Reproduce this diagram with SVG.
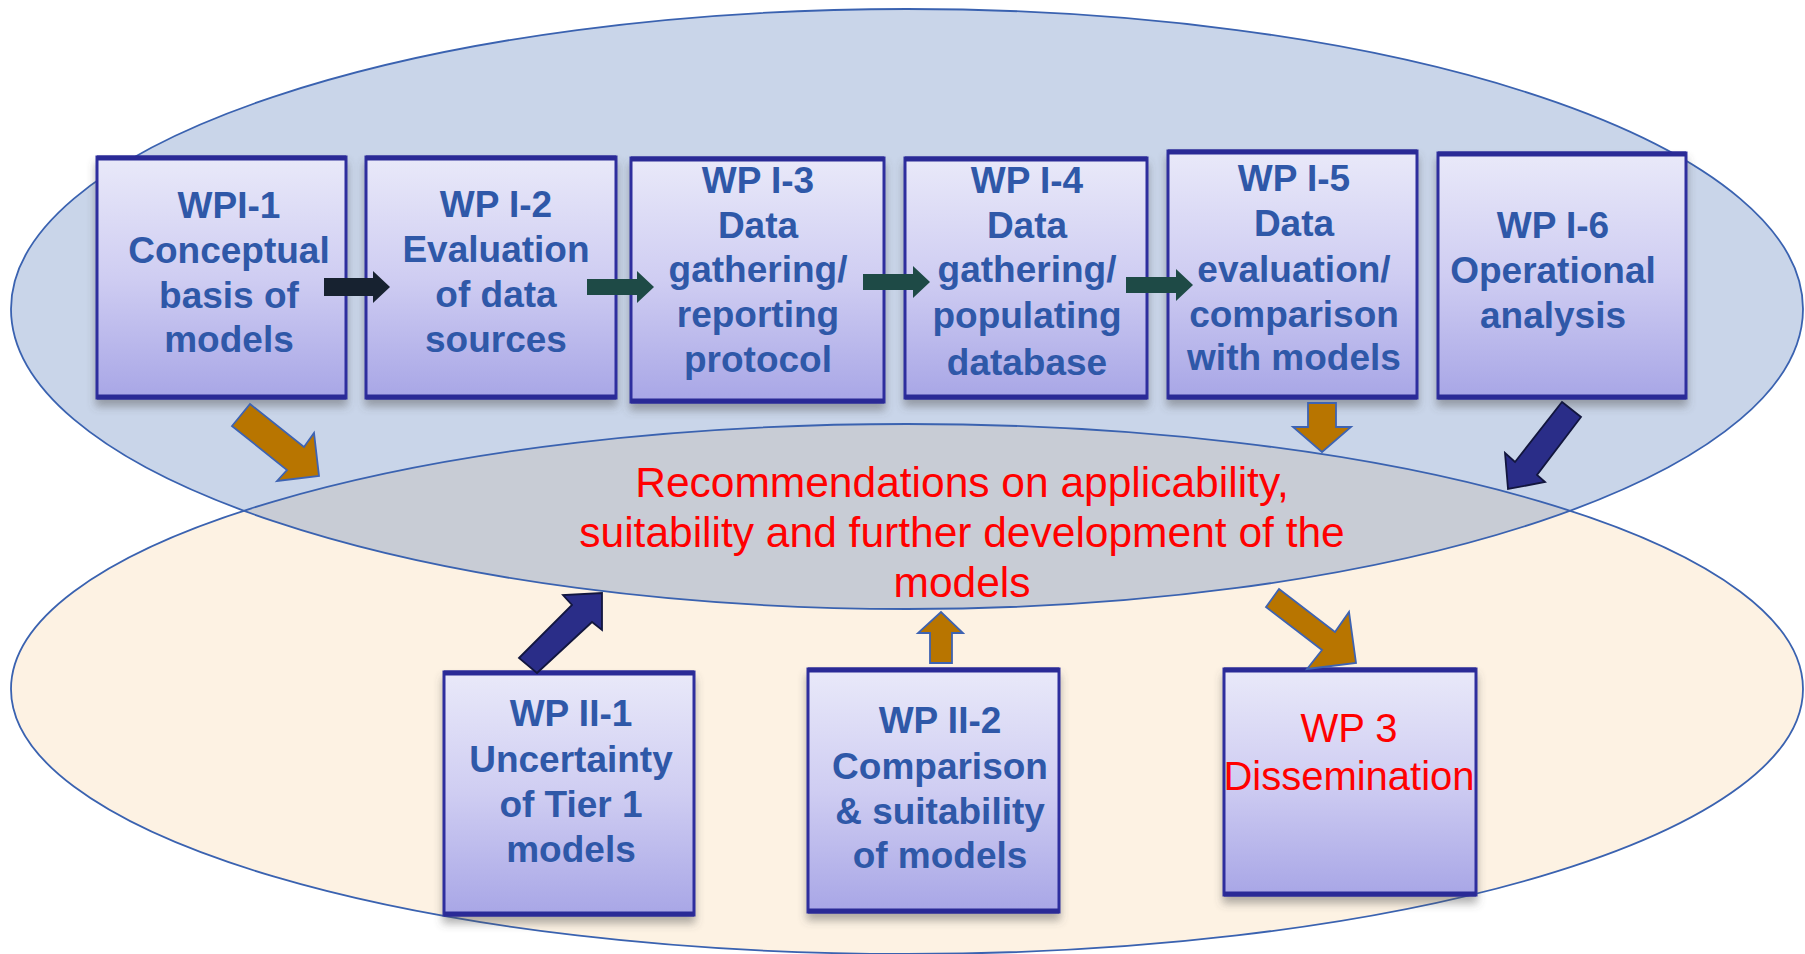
<svg xmlns="http://www.w3.org/2000/svg" width="1805" height="954" viewBox="0 0 1805 954">
<defs>
<linearGradient id="boxg" x1="0" y1="0" x2="0" y2="1">
<stop offset="0" stop-color="#e9e9f9"/>
<stop offset="0.5" stop-color="#cfcdf2"/>
<stop offset="1" stop-color="#a8a6e6"/>
</linearGradient>
<filter id="sh" x="-10%" y="-10%" width="120%" height="130%">
<feDropShadow dx="0" dy="7" stdDeviation="4" flood-color="#555" flood-opacity="0.45"/>
</filter>
<clipPath id="topclip"><ellipse cx="907" cy="309" rx="896" ry="300"/></clipPath>
<style>
.box{fill:url(#boxg);stroke:#2f2f9e;stroke-width:3;filter:url(#sh)}
.edge{stroke:#2a2a96;stroke-width:5}
.t{font-family:"Liberation Sans",Arial,sans-serif;font-weight:bold;font-size:37px;fill:#2f58a8;text-anchor:middle}
.r{font-family:"Liberation Sans",Arial,sans-serif;font-size:40px;fill:#ff0000;text-anchor:middle}
.rc{font-family:"Liberation Sans",Arial,sans-serif;font-size:42.5px;fill:#ff0000;text-anchor:middle}
.orange{fill:#b87500;stroke:#3d63b3;stroke-width:1.8;stroke-linejoin:miter}
.navy{fill:#2a2d88;stroke:#12163e;stroke-width:1.8}
.dark{fill:#172230}
.teal{fill:#1e4a46}
</style>
</defs>
<rect width="1805" height="954" fill="#ffffff"/>
<g id="background">
<ellipse cx="907" cy="689" rx="896" ry="265" fill="#fdf2e3"/>
<ellipse cx="907" cy="309" rx="896" ry="300" fill="#c9d5e9"/>
<ellipse cx="907" cy="689" rx="896" ry="265" fill="#c8ccd5" clip-path="url(#topclip)"/>
<ellipse cx="907" cy="689" rx="896" ry="265" fill="none" stroke="#3a62b0" stroke-width="1.8"/>
<ellipse cx="907" cy="309" rx="896" ry="300" fill="none" stroke="#3a62b0" stroke-width="1.8"/>
</g>
<g id="wpi1">
<rect class="box" x="97" y="157" width="249" height="241"/>
<line class="edge" x1="97" y1="158" x2="346" y2="158"/><line class="edge" x1="97" y1="397" x2="346" y2="397"/>
<text class="t" x="229" y="218">WPI-1</text><text class="t" x="229" y="263">Conceptual</text><text class="t" x="229" y="308">basis of</text><text class="t" x="229" y="352">models</text>
</g>
<g id="wpi2">
<rect class="box" x="366" y="157" width="250" height="241"/>
<line class="edge" x1="366" y1="158" x2="616" y2="158"/><line class="edge" x1="366" y1="397" x2="616" y2="397"/>
<text class="t" x="496" y="217">WP I-2</text><text class="t" x="496" y="262">Evaluation</text><text class="t" x="496" y="307">of data</text><text class="t" x="496" y="352">sources</text>
</g>
<g id="wpi3">
<rect class="box" x="631" y="158" width="253" height="244"/>
<line class="edge" x1="631" y1="159" x2="884" y2="159"/><line class="edge" x1="631" y1="401" x2="884" y2="401"/>
<text class="t" x="758" y="193">WP I-3</text><text class="t" x="758" y="238">Data</text><text class="t" x="758" y="282">gathering/</text><text class="t" x="758" y="327">reporting</text><text class="t" x="758" y="372">protocol</text>
</g>
<g id="wpi4">
<rect class="box" x="905" y="158" width="242" height="240"/>
<line class="edge" x1="905" y1="159" x2="1147" y2="159"/><line class="edge" x1="905" y1="397" x2="1147" y2="397"/>
<text class="t" x="1027" y="193">WP I-4</text><text class="t" x="1027" y="238">Data</text><text class="t" x="1027" y="282">gathering/</text><text class="t" x="1027" y="328">populating</text><text class="t" x="1027" y="375">database</text>
</g>
<g id="wpi5">
<rect class="box" x="1168" y="151" width="249" height="247"/>
<line class="edge" x1="1168" y1="152" x2="1417" y2="152"/><line class="edge" x1="1168" y1="397" x2="1417" y2="397"/>
<text class="t" x="1294" y="191">WP I-5</text><text class="t" x="1294" y="236">Data</text><text class="t" x="1294" y="282">evaluation/</text><text class="t" x="1294" y="327">comparison</text><text class="t" x="1294" y="370">with models</text>
</g>
<g id="wpi6">
<rect class="box" x="1438" y="153" width="248" height="245"/>
<line class="edge" x1="1438" y1="154" x2="1686" y2="154"/><line class="edge" x1="1438" y1="397" x2="1686" y2="397"/>
<text class="t" x="1553" y="238">WP I-6</text><text class="t" x="1553" y="283">Operational</text><text class="t" x="1553" y="328">analysis</text>
</g>
<g id="wpii1">
<rect class="box" x="444" y="672" width="250" height="243"/>
<line class="edge" x1="444" y1="673" x2="694" y2="673"/><line class="edge" x1="444" y1="914" x2="694" y2="914"/>
<text class="t" x="571" y="726">WP II-1</text><text class="t" x="571" y="772">Uncertainty</text><text class="t" x="571" y="817">of Tier 1</text><text class="t" x="571" y="862">models</text>
</g>
<g id="wpii2">
<rect class="box" x="808" y="669" width="251" height="243"/>
<line class="edge" x1="808" y1="670" x2="1059" y2="670"/><line class="edge" x1="808" y1="911" x2="1059" y2="911"/>
<text class="t" x="940" y="733">WP II-2</text><text class="t" x="940" y="779">Comparison</text><text class="t" x="940" y="824">&amp; suitability</text><text class="t" x="940" y="868">of models</text>
</g>
<g id="wp3">
<rect class="box" x="1224" y="669" width="252" height="226"/>
<line class="edge" x1="1224" y1="670" x2="1476" y2="670"/><line class="edge" x1="1224" y1="894" x2="1476" y2="894"/>
<text class="r" x="1349" y="742">WP 3</text><text class="r" x="1349" y="790">Dissemination</text>
</g>
<g id="recommendations">
<text class="rc" x="962" y="497">Recommendations on applicability,</text>
<text class="rc" x="962" y="547">suitability and further development of the</text>
<text class="rc" x="962" y="597">models</text>
</g>
<g id="connectors">
<polygon class="dark" points="324,278 373,278 373,271 390,287 373,303 373,296 324,296"/>
<polygon class="teal" points="587,279 637,279 637,271 654,287 637,303 637,295 587,295"/>
<polygon class="teal" points="863,274 913,274 913,266 930,282 913,298 913,290 863,290"/>
<polygon class="teal" points="1126,277 1176,277 1176,269 1193,285 1176,301 1176,293 1126,293"/>
<polygon class="orange" points="250,404 304,447 314,433 319,476 277,481 287,470 232,426"/>
<polygon class="orange" points="1308,403 1336,403 1336,427 1351,427 1322,452 1293,427 1308,427"/>
<polygon class="navy" points="1562,402 1581,417 1537,475 1545,482 1508,489 1505,453 1515,462"/>
<polygon class="navy" points="519,658 572,605 563,595 602,593 602,630 592,622 537,673"/>
<polygon class="orange" points="930,663 930,633 918,633 941,612 963,633 952,633 952,663"/>
<polygon class="orange" points="1279,589 1335,632 1349,612 1356,663 1307,669 1322,650 1266,607"/>
</g>
</svg>
